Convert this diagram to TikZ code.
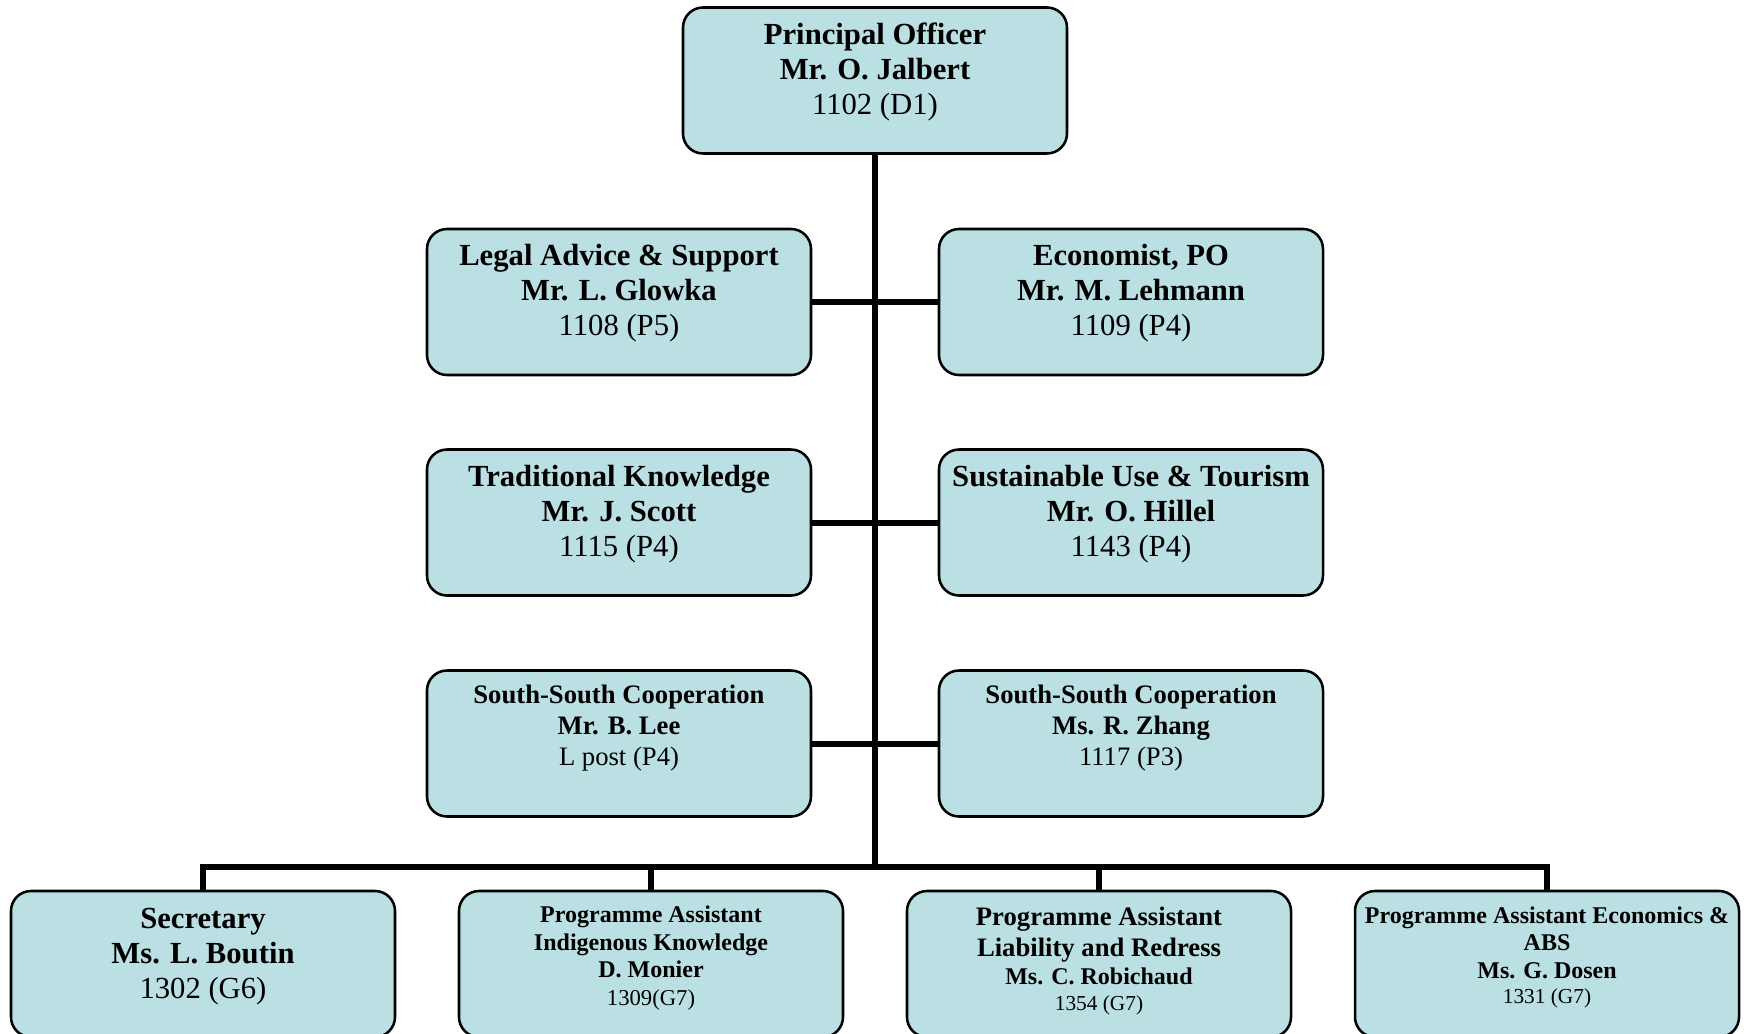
\documentclass[tikz,border=0pt]{standalone}
\usepackage{fontspec}
\setmainfont{Liberation Serif}
\definecolor{boxblue}{RGB}{186,224,228}
\newcommand\fsA{\fontsize{23}{26.25}\selectfont}
\newcommand\fsB{\fontsize{20}{23}\selectfont}
\newcommand\fsC{\fontsize{18}{20.6}\selectfont}
\newcommand\fsD{\fontsize{16}{19.2}\selectfont}
\newcommand\fsE{\fontsize{17}{20.6}\selectfont}
\begin{document}
\begin{tikzpicture}[x=0.75pt,y=-0.75pt,
  box/.style={draw=black, line width=1.9pt, fill=boxblue, rounded corners=15pt,
              minimum width=288pt, minimum height=109.5pt, inner sep=0pt},
  txt/.style={align=center, inner sep=0pt, text=black},
  conn/.style={draw=black, line width=4.5pt, line join=miter}]
\clip (0,0) rectangle (1744,1034);
% boxes
\node[box] (top) at (875,80.5) {};
\node[box] (l1) at (619,302) {};
\node[box] (r1) at (1131,302) {};
\node[box] (l2) at (619,522.5) {};
\node[box] (r2) at (1131,522.5) {};
\node[box] (l3) at (619,743.5) {};
\node[box] (r3) at (1131,743.5) {};
\node[box] (b1) at (203,964) {};
\node[box] (b2) at (651,964) {};
\node[box] (b3) at (1099,964) {};
\node[box] (b4) at (1547,964) {};
% connectors
\coordinate (busc) at (875,867);
\draw[conn] (top.south) -- (busc);
\draw[conn] (l1.east) -- (r1.west);
\draw[conn] (l2.east) -- (r2.west);
\draw[conn] (l3.east) -- (r3.west);
\draw[conn] (b1.north) -- (b1.north |- busc) -- (b4.north |- busc) -- (b4.north);
\draw[conn] (b2.north) -- (b2.north |- busc);
\draw[conn] (b3.north) -- (b3.north |- busc);
% texts
\node[txt, font=\fsA] (ttop) at (875,72) {\textbf{Principal Officer}\\\textbf{Mr. O. Jalbert}\\1102 (D1)};
\node[txt, font=\fsA] (tl1) at (619,293.5) {\textbf{Legal Advice \& Support}\\\textbf{Mr. L. Glowka}\\1108 (P5)};
\node[txt, font=\fsA] (tr1) at (1131,293.5) {\textbf{Economist, PO}\\\textbf{Mr. M. Lehmann}\\1109 (P4)};
\node[txt, font=\fsA] (tl2) at (619,514) {\textbf{Traditional Knowledge}\\\textbf{Mr. J. Scott}\\1115 (P4)};
\node[txt, font=\fsA] (tr2) at (1131,514) {\textbf{Sustainable Use \& Tourism}\\\textbf{Mr. O. Hillel}\\1143 (P4)};
\node[txt, font=\fsB] (tl3) at (619,728) {\textbf{South-South Cooperation}\\\textbf{Mr. B. Lee}\\L post (P4)};
\node[txt, font=\fsB] (tr3) at (1131,728) {\textbf{South-South Cooperation}\\\textbf{Ms. R. Zhang}\\1117 (P3)};
\node[txt, font=\fsA] (tb1) at (203,957) {\textbf{Secretary}\\\textbf{Ms. L. Boutin}\\1302 (G6)};
\node[txt, font=\fsC] (tb2) at (651,958) {\textbf{Programme Assistant}\\\textbf{Indigenous Knowledge}\\\textbf{D. Monier}\\{\fsE 1309(G7)}};
\node[txt, font=\fsD] (tb3) at (1099,961) {{\fsB\textbf{Programme Assistant}}\\[4.1pt]{\fsB\textbf{Liability and Redress}}\\[1.7pt]{\fsC\textbf{Ms. C. Robichaud}}\\{\fsD 1354 (G7)}};
\node[txt, font=\fsC] (tb4) at (1547,957.5) {\textbf{Programme Assistant Economics \&}\\\textbf{ABS}\\\textbf{Ms. G. Dosen}\\[-1.4pt]{\fsD 1331 (G7)}};
\end{tikzpicture}
\end{document}
